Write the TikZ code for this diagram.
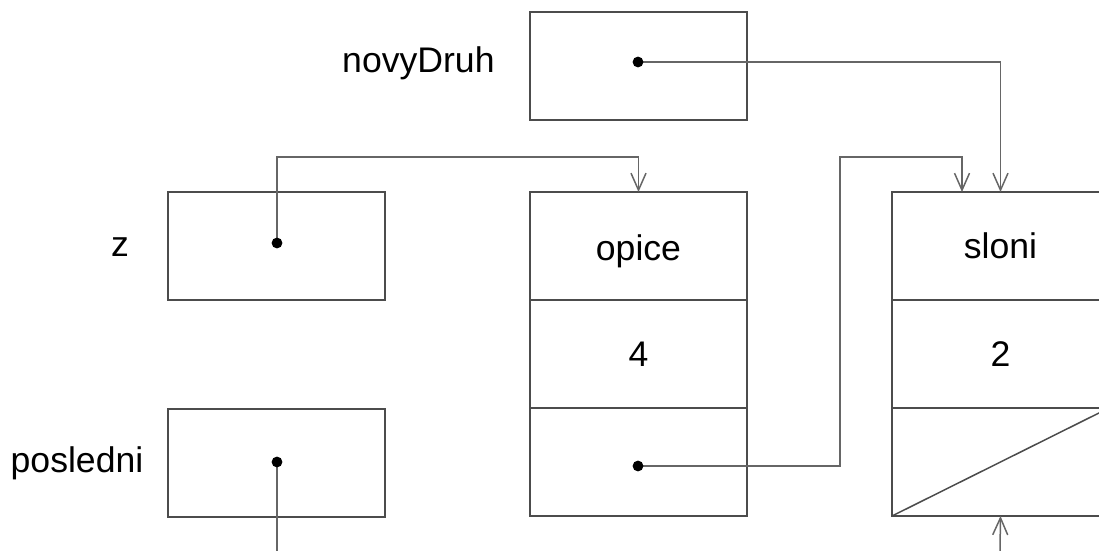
\documentclass[tikz,border=0pt]{standalone}
\usepackage{fontspec}
\setmainfont{Liberation Sans}
\usetikzlibrary{arrows.meta}
\definecolor{boxgray}{gray}{0.30}
\definecolor{linegray}{gray}{0.40}
\begin{document}
\begin{tikzpicture}[x=0.5pt,y=-0.5pt,
  txt/.style={font=\fontsize{17.8}{21}\selectfont},
  cell/.style={draw=boxgray, line width=0.75pt, minimum width=108.5pt,
    minimum height=54pt, inner sep=0pt, outer sep=0pt, anchor=north west, txt},
  lbl/.style={txt, inner sep=0pt},
  ptr/.style={draw=linegray, line width=0.75pt,
    -{Straight Barb[length=8.5pt,width=7.5pt,line width=0.75pt]}},
  wire/.style={draw=linegray, line width=0.75pt},
  dot/.style={circle, fill=black, inner sep=0pt, minimum size=5.4pt}]
\useasboundingbox (0,0) rectangle (1099,551);

% variables
\node[cell] (nd) at (530,12) {};
\node[cell] (zb) at (168,192) {};
\node[cell] (pb) at (168,409) {};
\node[lbl, anchor=east] (ndl) at (495,63) {novyDruh};
\node[lbl] (zl) at (120,247) {z};
\node[lbl] (pl) at (77,463) {posledni};

% record "opice"
\node[cell, text depth=0pt] (o1) at (530,192) {\raisebox{-1.5pt}{opice}};
\node[cell] (o2) at (o1.south west) {4};
\node[cell] (o3) at (o2.south west) {};

% record "sloni"
\node[cell] (s1) at (892,192) {sloni};
\node[cell] (s2) at (s1.south west) {2};
\node[cell] (s3) at (s2.south west) {};
\draw[boxgray, line width=0.75pt] (s3.south west) -- (s3.north east);

% pointer origins and bends
\coordinate (pnd) at (638,62);
\coordinate (pz) at (277,243);
\coordinate (pp) at (277,462);
\coordinate (po) at (638,466);
\coordinate (bz) at (277,157);
\coordinate (bo) at (840,157);
\coordinate (so) at (962,192);
\coordinate (pend) at (277,551);
\coordinate (send) at (1000,551);

% pointers
\draw[ptr] (pnd) -| (s1.north);
\draw[ptr] (pz) -- (bz) -| (o1.north);
\draw[ptr] (po) -| (bo) -| (so);
\draw[wire] (pp) -- (pend);
\draw[ptr] (send) -- (s3.south);

% dots
\node[dot] (dnd) at (pnd) {};
\node[dot] (dz) at (pz) {};
\node[dot] (dp) at (pp) {};
\node[dot] (do) at (po) {};
\end{tikzpicture}
\end{document}
